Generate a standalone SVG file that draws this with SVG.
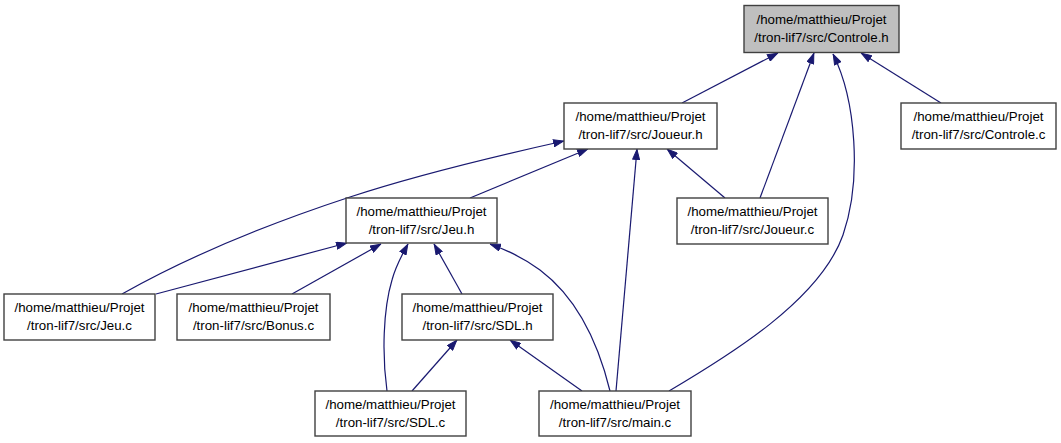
<svg xmlns="http://www.w3.org/2000/svg" width="1061" height="443" viewBox="0 0 1061 443">
<defs>
<marker id="ah" markerUnits="userSpaceOnUse" viewBox="0 0 11 8" markerWidth="11" markerHeight="8" refX="11" refY="4" orient="auto">
<path d="M0.5,0.5 L10.5,4 L0.5,7.5 z" fill="#191970" stroke="#191970" stroke-width="1"/>
</marker>
<style>
.n rect{fill:#ffffff;stroke:#404040;stroke-width:1.4}
.n.h rect{fill:#bfbfbf}
.n text{font-family:"Liberation Sans",Arial,sans-serif;font-size:13.3px;fill:#000;text-anchor:middle}
.e path{fill:none;stroke:#191970;stroke-width:1.2;marker-end:url(#ah)}
</style>
</defs>
<rect width="1061" height="443" fill="#ffffff"/>
<g id="edges" class="e">
<path d="M682,103 L778,53"/>
<path d="M760,198 L814,53"/>
<path d="M669,391 C730,355 820,300 843,235 C862,180 856,100 833,54"/>
<path d="M941,103 L861,53"/>
<path d="M470,198 L588,149"/>
<path d="M122,294 C200,250 280,220 350,197 C420,174 510,153 564,141"/>
<path d="M616,391 L637,149"/>
<path d="M725,198 L667,149"/>
<path d="M156,294 L347,243"/>
<path d="M292,294 L381,244"/>
<path d="M462,294 L434,244"/>
<path d="M387,391 C382,355 383,310 392,280 C396,265 402,255 408,244"/>
<path d="M610,391 C600,350 580,300 540,270 C525,259 507,250 490,244"/>
<path d="M412,391 L457,340"/>
<path d="M582,391 L510,340"/>
</g>
<g id="controle_h" class="n h"><rect x="744" y="5.5" width="155" height="47"/><text x="821.5" y="24">/home/matthieu/Projet</text><text x="821.5" y="42">/tron-lif7/src/Controle.h</text></g>
<g id="joueur_h" class="n"><rect x="564" y="103" width="153" height="46"/><text x="640.5" y="121">/home/matthieu/Projet</text><text x="640.5" y="139">/tron-lif7/src/Joueur.h</text></g>
<g id="controle_c" class="n"><rect x="901" y="103" width="155" height="46"/><text x="978.5" y="121">/home/matthieu/Projet</text><text x="978.5" y="139">/tron-lif7/src/Controle.c</text></g>
<g id="jeu_h" class="n"><rect x="346" y="198" width="151" height="45"/><text x="421.5" y="216">/home/matthieu/Projet</text><text x="421.5" y="234">/tron-lif7/src/Jeu.h</text></g>
<g id="joueur_c" class="n"><rect x="677" y="198" width="151" height="46"/><text x="752.5" y="216">/home/matthieu/Projet</text><text x="752.5" y="234">/tron-lif7/src/Joueur.c</text></g>
<g id="jeu_c" class="n"><rect x="4" y="294" width="151" height="46"/><text x="79.5" y="312">/home/matthieu/Projet</text><text x="79.5" y="330">/tron-lif7/src/Jeu.c</text></g>
<g id="bonus_c" class="n"><rect x="177" y="294" width="153" height="46"/><text x="253.5" y="312">/home/matthieu/Projet</text><text x="253.5" y="330">/tron-lif7/src/Bonus.c</text></g>
<g id="sdl_h" class="n"><rect x="402" y="294" width="151" height="46"/><text x="477.5" y="312">/home/matthieu/Projet</text><text x="477.5" y="330">/tron-lif7/src/SDL.h</text></g>
<g id="sdl_c" class="n"><rect x="315" y="391" width="151" height="45"/><text x="390.5" y="409">/home/matthieu/Projet</text><text x="390.5" y="427">/tron-lif7/src/SDL.c</text></g>
<g id="main_c" class="n"><rect x="539" y="391" width="152" height="45"/><text x="615" y="409">/home/matthieu/Projet</text><text x="615" y="427">/tron-lif7/src/main.c</text></g>
</svg>
